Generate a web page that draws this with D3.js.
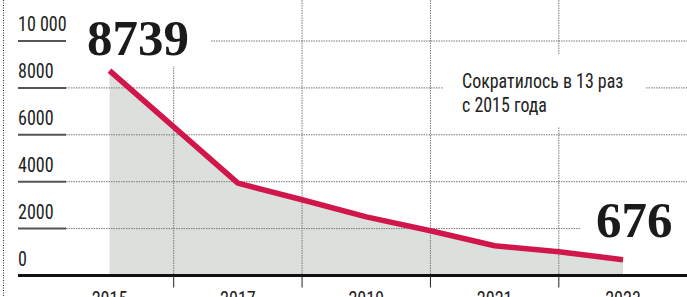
<!DOCTYPE html>
<html>
<head>
<meta charset="utf-8">
<script src="https://cdn.jsdelivr.net/npm/d3@7"></script>
<style>
  html, body { margin: 0; padding: 0; background: #fff; overflow: hidden; }
  .narrow { font-family: "Liberation Sans Narrow", "Roboto Condensed", "DejaVu Sans Condensed", sans-serif; }
</style>
</head>
<body>
<svg id="chart" width="687" height="297"></svg>
<script>
var years = [2015, 2016, 2017, 2018, 2019, 2020, 2021, 2022, 2023]
var values = [8739, 6340, 3940, 3230, 2500, 1910, 1270, 1010, 676]
var y_ticks = [0, 2000, 4000, 6000, 8000, 10000]
var y_tick_labels = ["0", "2000", "4000", "6000", "8000", "10 000"]
var x_labels = [2015, 2017, 2019, 2021, 2023]
var x_grid = [2016, 2018, 2020, 2022]
var first_label = "8739"
var last_label = "676"
var note_lines = ["Сократилось в 13 раз", "с 2015 года"]

var svg = d3.select("#chart")
var width = parseFloat(svg.attr("width"))
var height = parseFloat(svg.attr("height"))

var x = d3.scaleLinear().domain([2015, 2023]).range([109.5, 623])
var y = d3.scaleLinear().domain([0, 10000]).range([275.5, 41])

var data = years.map(function(d, i){ return {year: d, value: values[i]} })

// left dotted border
svg.append("line")
    .attr("x1", 3.5).attr("x2", 3.5)
    .attr("y1", 0).attr("y2", height)
    .attr("stroke", "#333")
    .attr("stroke-width", 1)
    .attr("stroke-dasharray", "1,1.5")

svg.append("path")
    .datum(data)
    .attr("fill", "#dbe0dc")
    .attr("d", d3.area()
      .x(function(d){ return x(d.year) })
      .y0(y(0))
      .y1(function(d){ return y(d.value) }))

// horizontal grid
var grid = svg.selectAll(".hgrid")
    .data(y_ticks.filter(function(d){ return d > 0 }))
    .enter()
    .append("g")
    .attr("class", "hgrid")
grid.append("line")
    .attr("x1", 66).attr("x2", width)
    .attr("y1", function(d){ return y(d) }).attr("y2", function(d){ return y(d) })
    .attr("stroke", "#777")
    .attr("stroke-width", 1)
    .attr("stroke-dasharray", "1.5,1")
grid.append("line")
    .attr("x1", 18).attr("x2", 66)
    .attr("y1", function(d){ return y(d) }).attr("y2", function(d){ return y(d) })
    .attr("stroke", "#555")
    .attr("stroke-width", 2)

svg.selectAll(".vgrid")
    .data(x_grid)
    .enter()
    .append("line")
    .attr("class", "vgrid")
    .attr("x1", function(d){ return x(d) }).attr("x2", function(d){ return x(d) })
    .attr("y1", 0).attr("y2", y(0))
    .attr("stroke", "#777")
    .attr("stroke-width", 1)
    .attr("stroke-dasharray", "1.5,1")

// white patches behind the labels
var patches = [[66, 0, 144, 66], [443, 55, 203, 72], [580, 195, 107, 50]]
svg.selectAll(".patch")
    .data(patches)
    .enter()
    .append("rect")
    .attr("x", function(d){ return d[0] })
    .attr("y", function(d){ return d[1] })
    .attr("width", function(d){ return d[2] })
    .attr("height", function(d){ return d[3] })
    .attr("fill", "#fff")

// x axis
svg.append("line")
    .attr("x1", 18).attr("x2", width)
    .attr("y1", y(0)).attr("y2", y(0))
    .attr("stroke", "#111")
    .attr("stroke-width", 3)
svg.selectAll(".xtick")
    .data(x_grid)
    .enter()
    .append("line")
    .attr("class", "xtick")
    .attr("x1", function(d){ return x(d) }).attr("x2", function(d){ return x(d) })
    .attr("y1", y(0)).attr("y2", y(0) + 12)
    .attr("stroke", "#222")
    .attr("stroke-width", 1)

svg.append("path")
    .datum(data)
    .attr("fill", "none")
    .attr("stroke", "#d0164a")
    .attr("stroke-width", 5.5)
    .attr("stroke-linejoin", "round")
    .attr("d", d3.line()
      .x(function(d){ return x(d.year) })
      .y(function(d){ return y(d.value) }))

// condensed look: squeeze the sans texts a little
var squeeze = 0.88

svg.selectAll(".ylabel")
    .data(y_ticks)
    .enter()
    .append("text")
    .attr("class", "ylabel narrow")
    .attr("transform", function(d){ return "translate(18," + (y(d) - 10) + ") scale(" + squeeze + ",1)" })
    .attr("font-size", 20.5)
    .attr("fill", "#222")
    .text(function(d, i){ return y_tick_labels[i] })

svg.selectAll(".xlabel")
    .data(x_labels)
    .enter()
    .append("text")
    .attr("class", "xlabel narrow")
    .attr("transform", function(d){ return "translate(" + x(d) + ",306) scale(" + squeeze + ",1)" })
    .attr("text-anchor", "middle")
    .attr("font-size", 20.5)
    .attr("fill", "#222")
    .text(function(d){ return d })

svg.append("text")
    .attr("x", 87)
    .attr("y", 55)
    .attr("font-family", "'Liberation Serif', 'DejaVu Serif', serif")
    .attr("font-weight", "bold")
    .attr("font-size", 51)
    .attr("fill", "#1a1a1a")
    .text(first_label)

svg.append("text")
    .attr("x", 596)
    .attr("y", 237)
    .attr("font-family", "'Liberation Serif', 'DejaVu Serif', serif")
    .attr("font-weight", "bold")
    .attr("font-size", 51)
    .attr("fill", "#1a1a1a")
    .text(last_label)

svg.selectAll(".note")
    .data(note_lines)
    .enter()
    .append("text")
    .attr("class", "note narrow")
    .attr("transform", function(d, i){ return "translate(462," + (87.5 + i * 24) + ") scale(0.92,1)" })
    .attr("font-size", 19.5)
    .attr("fill", "#222")
    .text(function(d){ return d })
</script>
</body>
</html>
